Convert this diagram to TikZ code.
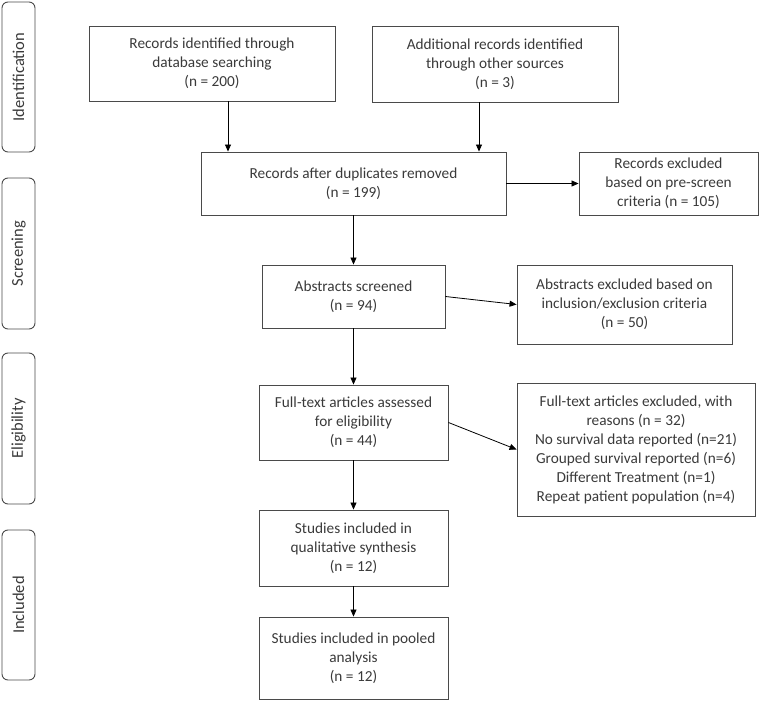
\documentclass[tikz,border=0pt]{standalone}
\usepackage{fontspec}
\setmainfont{Carlito}
\usetikzlibrary{arrows.meta}
\definecolor{txt}{HTML}{3A3A3A}
\definecolor{ln}{HTML}{4A4A4A}
\tikzset{
  box/.style={draw=ln, line width=0.9pt, align=center, text=txt, font=\fontsize{15.3}{19}\selectfont, inner sep=2pt},
  phase/.style={draw=ln, line width=0.9pt, rounded corners=6pt, minimum width=33pt, text=txt, font=\fontsize{16.5}{19}\selectfont},
  arr/.style={draw=black, line width=0.8pt, -{Triangle[length=7pt,width=6pt]}}
}
\begin{document}
\begin{tikzpicture}[x=1pt,y=-1pt]
\useasboundingbox (0,0) rectangle (761,701);
% phase labels
\node[phase, minimum height=150pt] (p1) at (18.5,77) {\rotatebox{90}{Identification}};
\node[phase, minimum height=151pt] (p2) at (18.5,253.5) {\rotatebox{90}{Screening}};
\node[phase, minimum height=151pt] (p3) at (18.5,428.5) {\rotatebox{90}{Eligibility}};
\node[phase, minimum height=150pt] (p4) at (18.5,605) {\rotatebox{90}{Included}};
% boxes
\node[box, minimum width=246pt, minimum height=75pt] (b1) at (212,63.5) {Records identified through\\database searching\\(n = 200)};
\node[box, minimum width=246pt, minimum height=76pt] (b2) at (495,64) {Additional records identified\\through other sources\\(n = 3)};
\node[box, minimum width=305pt, minimum height=63pt] (b3) at (353.5,183.5) {Records after duplicates removed\\(n = 199)};
\node[box, minimum width=179pt, minimum height=63pt] (b4) at (668.5,183.5) {Records excluded\\based on pre-screen\\criteria (n = 105)};
\node[box, minimum width=183pt, minimum height=63pt] (b5) at (353.5,296.5) {Abstracts screened\\(n = 94)};
\node[box, minimum width=215pt, minimum height=79pt] (b6) at (624.5,304.5) {Abstracts excluded based on\\inclusion/exclusion criteria\\(n = 50)};
\node[box, minimum width=189pt, minimum height=75pt] (b7) at (353.5,422.5) {Full-text articles assessed\\for eligibility\\(n = 44)};
\node[box, minimum width=238pt, minimum height=133pt] (b8) at (636,449.5) {Full-text articles excluded, with\\reasons (n = 32)\\No survival data reported (n=21)\\Grouped survival reported (n=6)\\Different Treatment (n=1)\\Repeat patient population (n=4)};
\node[box, minimum width=189pt, minimum height=76pt] (b9) at (353.5,548) {Studies included in\\qualitative synthesis\\(n = 12)};
\node[box, minimum width=189pt, minimum height=82pt] (b10) at (353.5,658) {Studies included in pooled\\analysis\\(n = 12)};
% connectors
\coordinate (a1) at (228,0);
\coordinate (a2) at (479,0);
\draw[arr] (b1.south -| a1) -- (b3.north -| a1);
\draw[arr] (b2.south -| a2) -- (b3.north -| a2);
\draw[arr] (b3.east) -- (b4.west);
\draw[arr] (b3.south) -- (b5.north);
\draw[arr] (b5.east) -- (b6.west);
\draw[arr] (b5.south) -- (b7.north);
\draw[arr] (b7.east) -- (b8.west);
\draw[arr] (b7.south) -- (b9.north);
\draw[arr] (b9.south) -- (b10.north);
\end{tikzpicture}
\end{document}
